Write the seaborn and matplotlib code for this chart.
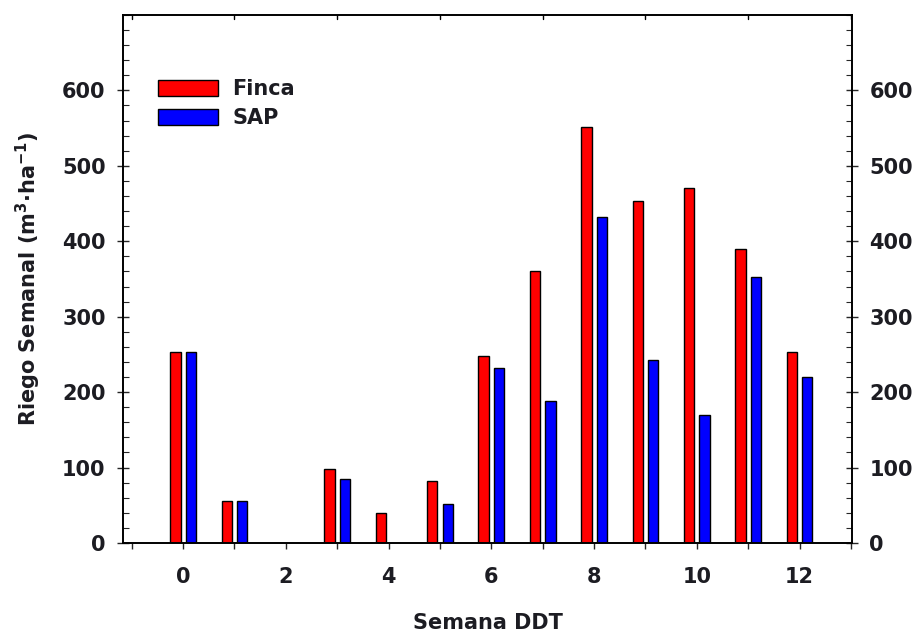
import numpy as np
import pandas as pd
import matplotlib
matplotlib.use("Agg")
import matplotlib.pyplot as plt
from matplotlib.ticker import MultipleLocator, FixedLocator
import seaborn as sns

# Weekly irrigation (m3/ha) per week after transplant
semanas = [0, 1, 2, 3, 4, 5, 6, 7, 8, 9, 10, 11, 12]
finca = [253, 55, 0, 98, 40, 82, 248, 360, 552, 453, 470, 390, 253]
sap = [253, 55, 0, 85, 0, 52, 232, 188, 432, 242, 170, 352, 220]
series = ["Finca", "SAP"]
colores = {"Finca": "#ff0000", "SAP": "#0000ff"}
x_ticks = [0, 2, 4, 6, 8, 10, 12]
y_ticks = [0, 100, 200, 300, 400, 500, 600]

df = pd.DataFrame({
    "semana": semanas * 2,
    "riego": finca + sap,
    "serie": [series[0]] * len(semanas) + [series[1]] * len(semanas),
})

sns.set_style("ticks")
plt.rcParams["font.family"] = ["DejaVu Sans"]
plt.rcParams["font.weight"] = "bold"
plt.rcParams["mathtext.default"] = "bf"
text_color = "#1c1c22"
plt.rcParams["text.color"] = text_color
plt.rcParams["xtick.labelcolor"] = text_color
plt.rcParams["ytick.labelcolor"] = text_color
plt.rcParams["axes.labelcolor"] = text_color

fig = plt.figure(figsize=(9.22, 6.37), dpi=100)
ax = fig.add_axes([0.1334, 0.1476, 0.7907, 0.8289])

sns.barplot(data=df, x="semana", y="riego", hue="serie", native_scale=True,
            width=0.6, gap=0.33, palette=colores, saturation=1,
            edgecolor="black", linewidth=1.0, errorbar=None, ax=ax)

ax.set_xlim(-1.17, 13.02)
ax.set_ylim(0, 700)

for s in ax.spines.values():
    s.set_visible(True)
    s.set_linewidth(1.4)
    s.set_color("black")

ax.xaxis.set_major_locator(FixedLocator(x_ticks))
ax.xaxis.set_minor_locator(FixedLocator([-1, 1, 3, 5, 7, 9, 11, 13]))
ax.set_xticklabels([str(v) for v in x_ticks])
ax.tick_params(axis="x", which="both", direction="out", length=4, width=1,
               bottom=True, top=False, labelsize=15, pad=13)

ax.yaxis.set_major_locator(FixedLocator(y_ticks))
ax.set_yticklabels([str(v) for v in y_ticks])
ax.yaxis.set_minor_locator(MultipleLocator(20))
ax.tick_params(axis="y", which="major", direction="inout", length=9, width=1,
               left=True, right=True, labelleft=True, labelright=True,
               labelsize=15, pad=8)
ax.tick_params(axis="y", which="minor", direction="in", length=4, width=0.8,
               left=True, right=True)

# short tick marks along the top frame
for xv in [-1, 1, 3, 5, 7, 9, 11, 13]:
    ax.plot([xv, xv], [700, 694], color="black", lw=1, clip_on=False)

ax.set_xlabel("Semana DDT", fontsize=15, fontweight="bold", labelpad=19)
ax.set_ylabel(r"Riego Semanal (m$^{3}$$\cdot$ha$^{-1}$)",
              fontsize=15, fontweight="bold", labelpad=14)

handles, labels = ax.get_legend_handles_labels()
ax.legend(handles, labels, loc="upper left", bbox_to_anchor=(0.034, 0.898),
          frameon=False, handlelength=2.85, handleheight=0.8,
          handletextpad=0.7, labelspacing=0.42, borderpad=0,
          prop={"weight": "bold", "size": 15})

fig.savefig("out.png", dpi=100)
